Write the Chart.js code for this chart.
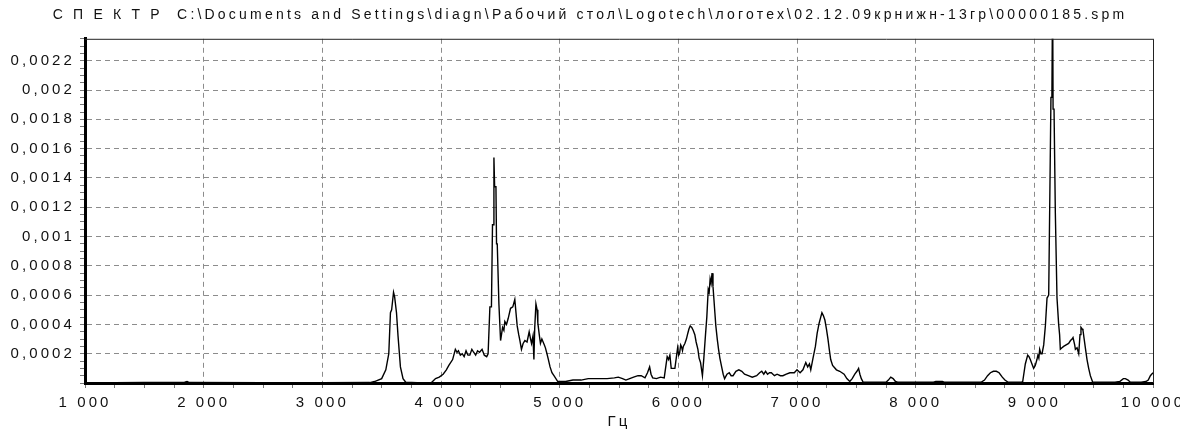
<!DOCTYPE html>
<html><head><meta charset="utf-8">
<script src="https://cdn.jsdelivr.net/npm/chart.js@4/dist/chart.umd.min.js"></script>
<style>html,body{margin:0;padding:0;background:#fff;}</style>
</head><body>
<canvas id="c" width="1180" height="437"></canvas>
<script>
const chartTitle = 'С П Е К Т Р  C:\\Documents and Settings\\diagn\\Рабочий стол\\Logotech\\логотех\\02.12.09крнижн-13гр\\00000185.spm';
const xAxisTitle = 'Гц';

const freqHz = [1000,1500,1840,1860,1880,2500,3000,3400,3440,3500,3535,3560,3574,3584,3600,3609,3625,3638,3658,3680,3703,3800,
3920,3954,3985,4018,4045,4066,4098,4121,4135,4147,4163,4179,4195,4211,4227,4243,4260,4275,4292,4308,4325,4346,4365,4385,4397,
4412,4425,4434,4440,4446,4452,4463,4468,4474,4488,4502,4519,4530,4538,4552,4566,4586,4605,4622,4632,4642,4655,4665,4678,4692,
4707,4725,4743,4755,4763,4775,4783,4790,4800,4810,4816,4828,4838,4850,4871,4880,4893,4905,4919,4935,4952,4984,5050,5112,5180,
5241,5300,5350,5400,5461,5494,5530,5558,5590,5623,5660,5687,5719,5740,5758,5770,5784,5816,5850,5881,5906,5918,5929,5940,5960,
5971,5994,6003,6010,6020,6026,6035,6042,6055,6068,6080,6090,6100,6113,6125,6139,6150,6165,6175,6187,6203,6215,6229,6240,6252,
6260,6268,6276,6284,6292,6300,6308,6316,6328,6339,6350,6365,6378,6390,6410,6429,6445,6461,6485,6510,6535,6558,6590,6623,6660,
6685,6703,6720,6735,6752,6768,6784,6810,6832,6860,6881,6910,6940,6977,7000,7026,7050,7074,7090,7105,7116,7135,7155,7170,7187,
7200,7210,7222,7235,7248,7261,7272,7284,7300,7332,7360,7397,7420,7445,7465,7487,7505,7519,7530,7542,7558,7750,7770,7790,7810,
7830,7848,8150,8170,8200,8225,8240,8550,8580,8606,8630,8655,8680,8703,8730,8752,8780,8890,8902,8924,8944,8955,8966,8980,8994,
9008,9022,9030,9038,9045,9055,9065,9079,9093,9107,9121,9129,9140,9148,9154,9158,9166,9177,9191,9205,9213,9219,9233,9247,9268,
9289,9305,9318,9326,9340,9346,9360,9374,9385,9393,9403,9410,9420,9430,9444,9458,9472,9492,9680,9720,9750,9767,9790,9809,9900,
9940,9960,9978,10000];

const amplitude = [0,0.000003,0.000005,0.00001,0.000003,0.000002,0.000002,0.000003,0.00001,0.00003,0.00009,0.0002,0.00048,0.0005,0.00062,0.00059,0.00048,0.00032,0.00011,0.00003,0.000005,0.000002,
0.000003,0.00003,0.00004,0.00006,0.00009,0.00012,0.00016,0.00023,0.00021,0.00022,0.00019,0.0002,0.00018,0.00022,0.00019,0.00019,0.00023,0.00021,0.00019,0.00022,0.00021,0.00023,0.00019,0.00018,0.0002,
0.00052,0.00052,0.00108,0.00108,0.00154,0.00134,0.00134,0.00095,0.00095,0.00054,0.00029,0.00038,0.00036,0.00042,0.0004,0.00044,0.00051,0.00052,0.00057,0.00048,0.00039,0.00033,0.00029,0.00023,0.00027,
0.00029,0.00028,0.00035,0.0003,0.00027,0.00032,0.00016,0.00038,0.00054,0.0005,0.00041,0.00033,0.00027,0.0003,0.00026,0.00024,0.0002,0.00016,0.00011,0.00007,0.00005,0.00001,0.00001,0.00002,0.00002,
0.00003,0.00003,0.00003,0.00003,0.000035,0.00004,0.00003,0.00002,0.00003,0.00004,0.00005,0.00005,0.000035,0.00007,0.00011,0.00006,0.000035,0.00003,0.00004,0.000035,0.00018,0.00016,0.00019,0.0001,0.0001,
0.0001,0.00024,0.00019,0.0002,0.00026,0.00025,0.00022,0.00025,0.00027,0.0003,0.00034,0.00037,0.00039,0.00038,0.00036,0.00033,0.00028,0.00023,0.00017,0.00014,0.00005,0.00017,0.00033,0.00045,0.00064,
0.00062,0.00071,0.00068,0.00075,0.00066,0.00057,0.00048,0.00039,0.0003,0.00023,0.00017,0.00011,0.00006,0.00003,0.00006,0.00007,0.00005,0.00005,0.00008,0.00009,0.00008,0.00006,0.00005,0.00004,0.00005,
0.00007,0.00008,0.00006,0.00008,0.00006,0.00007,0.00007,0.00005,0.00006,0.00005,0.00005,0.00006,0.00007,0.00007,0.00009,0.00007,0.00009,0.00014,0.00011,0.00013,0.00009,0.00017,0.00025,0.00034,0.00041,
0.00045,0.00048,0.00046,0.00043,0.00037,0.0003,0.00023,0.00016,0.00012,0.00009,0.00008,0.00006,0.00003,0.00001,0.00003,0.00006,0.00008,0.0001,0.00006,0.00003,0.000005,0.000005,0.00002,0.00004,0.00003,
0.00001,0.000005,0.000005,0.00001,0.00001,0.00001,0.000005,0.000005,0.00002,0.00005,0.00007,0.00008,0.00008,0.00007,0.00004,0.00002,0.000005,0.000005,0.00001,0.00013,0.00019,0.00018,0.00016,0.00013,0.0001,
0.00012,0.00016,0.00019,0.00017,0.00023,0.0002,0.0002,0.00026,0.00039,0.00058,0.0006,0.00116,0.00195,0.00195,0.0027,0.00187,0.00187,0.00116,0.00058,0.0004,0.00033,0.00023,0.00024,0.00025,0.00026,
0.00027,0.00029,0.0003,0.00031,0.00026,0.00023,0.00024,0.0002,0.00033,0.00038,0.00037,0.00036,0.0003,0.00024,0.00016,0.0001,0.00005,0.000005,0.000005,0.00001,0.00003,0.00003,0.00002,0.000005,0.000005,
0.00001,0.00002,0.00005,0.00007];

const xTickValues = [1000,2000,3000,4000,5000,6000,7000,8000,9000,10000];
const xTickLabels = ['1 000','2 000','3 000','4 000','5 000','6 000','7 000','8 000','9 000','10 000'];
const yTickValues = [0.0002,0.0004,0.0006,0.0008,0.001,0.0012,0.0014,0.0016,0.0018,0.002,0.0022];
const yTickLabels = ['0,0002','0,0004','0,0006','0,0008','0,001','0,0012','0,0014','0,0016','0,0018','0,002','0,0022'];

const points = freqHz.map((f, i) => ({x: f, y: amplitude[i]}));

function findIdx(vals, v, tol) {
  for (let i = 0; i < vals.length; i++) if (Math.abs(vals[i] - v) < tol) return i;
  return -1;
}
const xMajor = v => findIdx(xTickValues, v, 0.5) >= 0;
const yMajor = v => findIdx(yTickValues, v, 1e-8) >= 0;

const TITLE_LS = '3.2px';
const TICK_LS = '3.1px';
const spacingPlugin = {
  id: 'spacing',
  beforeUpdate(c) { c.ctx.letterSpacing = TICK_LS; },
  beforeDraw(c) { c.ctx.letterSpacing = TITLE_LS; },
  beforeDatasetsDraw(c) { c.ctx.letterSpacing = TICK_LS; }
};
const framePlugin = {
  id: 'frame',
  afterDatasetsDraw(c) {
    const {ctx, chartArea: a} = c;
    ctx.save();
    ctx.strokeStyle = '#222';
    ctx.lineWidth = 1;
    ctx.beginPath();
    ctx.moveTo(a.left, a.top + 0.5);
    ctx.lineTo(a.right + 0.5, a.top + 0.5);
    ctx.lineTo(a.right + 0.5, a.bottom);
    ctx.stroke();
    ctx.restore();
  }
};

const FONT = {family: '"Liberation Sans", Arial, sans-serif', size: 15};

new Chart(document.getElementById('c'), {
  type: 'line',
  data: {datasets: [{
    data: points,
    borderColor: '#000',
    borderWidth: 1.4,
    pointRadius: 0,
    tension: 0,
    fill: false
  }]},
  options: {
    responsive: false,
    animation: false,
    devicePixelRatio: 1,
    layout: {padding: {left: 0, right: 0, top: 0, bottom: 0}},
    plugins: {
      legend: {display: false},
      tooltip: {enabled: false},
      title: {
        display: true,
        text: chartTitle,
        color: '#111',
        font: {family: '"Liberation Sans", Arial, sans-serif', size: 14, weight: 'normal'},
        padding: {top: 7, bottom: 15}
      }
    },
    scales: {
      x: {
        type: 'linear',
        min: 1000, max: 10000,
        afterFit(s) { s.height = 54; s.paddingLeft = 0; s.paddingRight = 0; },
        ticks: {
          z: 1,
          stepSize: 250, autoSkip: false, maxRotation: 0, color: '#111', font: FONT, padding: 6,
          callback: v => { const i = findIdx(xTickValues, v, 0.5); return i >= 0 ? xTickLabels[i] : ''; }
        },
        grid: {
          color: c => (c.tick && xMajor(c.tick.value)) ? '#8c8c8c' : 'rgba(0,0,0,0)',
          lineWidth: 1,
          tickColor: '#777',
          tickLength: 5,
          drawTicks: true
        },
        border: {display: true, color: '#000', width: 3, dash: [5, 4]},
        title: {display: true, text: xAxisTitle, color: '#111', font: FONT, padding: {top: 0, bottom: 6}}
      },
      y: {
        type: 'linear',
        min: 0, max: 0.00235,
        afterFit(s) { s.width = 85; s.paddingTop = 0; s.paddingBottom = 0; },
        ticks: {
          z: 1,
          stepSize: 0.00005, autoSkip: false, includeBounds: false, color: '#111', font: FONT, padding: 5,
          callback: v => { const i = findIdx(yTickValues, v, 1e-8); return i >= 0 ? yTickLabels[i] : ''; }
        },
        grid: {
          color: c => (c.tick && yMajor(c.tick.value)) ? '#8c8c8c' : 'rgba(0,0,0,0)',
          lineWidth: 1,
          tickColor: '#777',
          tickLength: 5,
          drawTicks: true
        },
        border: {display: true, color: '#000', width: 3, dash: [5, 4]}
      },
      yRight: {
        type: 'linear',
        position: 'right',
        display: true,
        min: 0, max: 1,
        afterFit(s) { s.width = 27; s.paddingTop = 0; s.paddingBottom = 0; },
        ticks: {display: false},
        grid: {display: false, drawTicks: false},
        border: {display: false}
      }
    }
  },
  plugins: [spacingPlugin, framePlugin]
});
</script>
</body></html>
